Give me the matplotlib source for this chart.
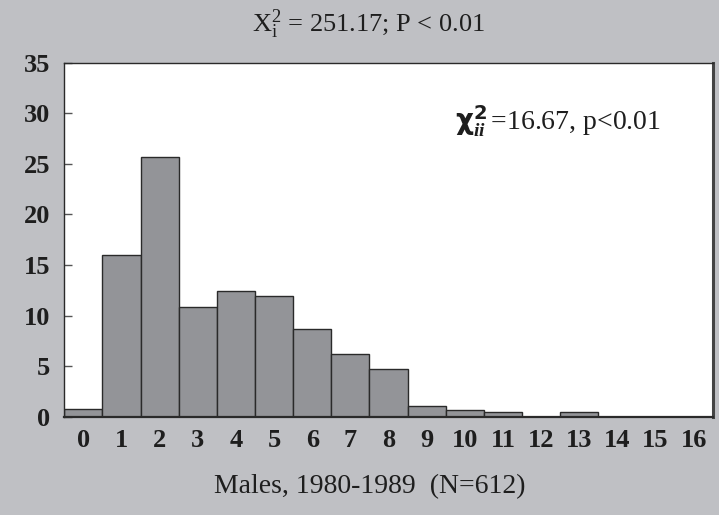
import matplotlib.pyplot as plt
import numpy as np

plt.rcParams['mathtext.fontset'] = 'custom'
plt.rcParams['mathtext.rm'] = 'Liberation Serif'
plt.rcParams['mathtext.it'] = 'Liberation Serif:italic'
plt.rcParams['mathtext.bf'] = 'DejaVu Sans:bold'
plt.rcParams['mathtext.bfit'] = 'Liberation Serif:bold:italic'
plt.rcParams['font.family'] = 'Liberation Serif'

# percentage of males per category
categories = list(range(17))
percent = [0.8, 16.0, 25.7, 10.8, 12.4, 11.9, 8.7, 6.2, 4.7,
           1.1, 0.7, 0.5, 0.0, 0.5, 0.0, 0.0, 0.0]
y_ticks = [0, 5, 10, 15, 20, 25, 30, 35]

bg = '#bfc0c4'

fig = plt.figure(figsize=(7.19, 5.15), dpi=100, facecolor=bg)
ax = fig.add_axes([0.0894, 0.1909, 0.9018, 0.6874])

ax.bar(categories, percent, width=1.0, align='edge',
       color='#939498', edgecolor='#2a2a2a', linewidth=1.0)

ax.set_xlim(0, 17)
ax.set_ylim(0, 35)
ax.set_yticks(y_ticks)
ax.set_xticks(np.array(categories) + 0.5)
ax.set_xticklabels([str(c) for c in categories])
ax.tick_params(axis='x', length=0, pad=9, labelsize=19)
ax.tick_params(axis='y', direction='in', length=6, width=1, color='#555555',
               pad=10, labelsize=19)
for lab in ax.get_xticklabels() + ax.get_yticklabels():
    lab.set_fontweight('bold')
    lab.set_color('#1e1e1e')

for side in ['left', 'top']:
    ax.spines[side].set_linewidth(1.0)
    ax.spines[side].set_color('#2a2a2a')
ax.spines['bottom'].set_linewidth(1.6)
ax.spines['bottom'].set_color('#2a2a2a')
ax.spines['right'].set_linewidth(2.2)
ax.spines['right'].set_color('#444444')

# chi-square of the second test, upper right
ax.text(0.603, 0.835,
        r'$\mathbf{\chi}^{\mathbf{2}}_{\boldsymbol{ii}}\,$=16.67, p<0.01',
        transform=ax.transAxes, fontsize=20, ha='left', va='center',
        color='#1e1e1e')

fig.text(0.512, 0.952, r'$\mathrm{X}^{2}_{\mathrm{i}}$ = 251.17; P < 0.01',
         fontsize=19, ha='center', va='center', color='#1e1e1e')

fig.text(0.514, 0.056, 'Males, 1980-1989  (N=612)', fontsize=20,
         ha='center', va='center', color='#1e1e1e')

fig.savefig('out.png', dpi=100, facecolor=bg)
